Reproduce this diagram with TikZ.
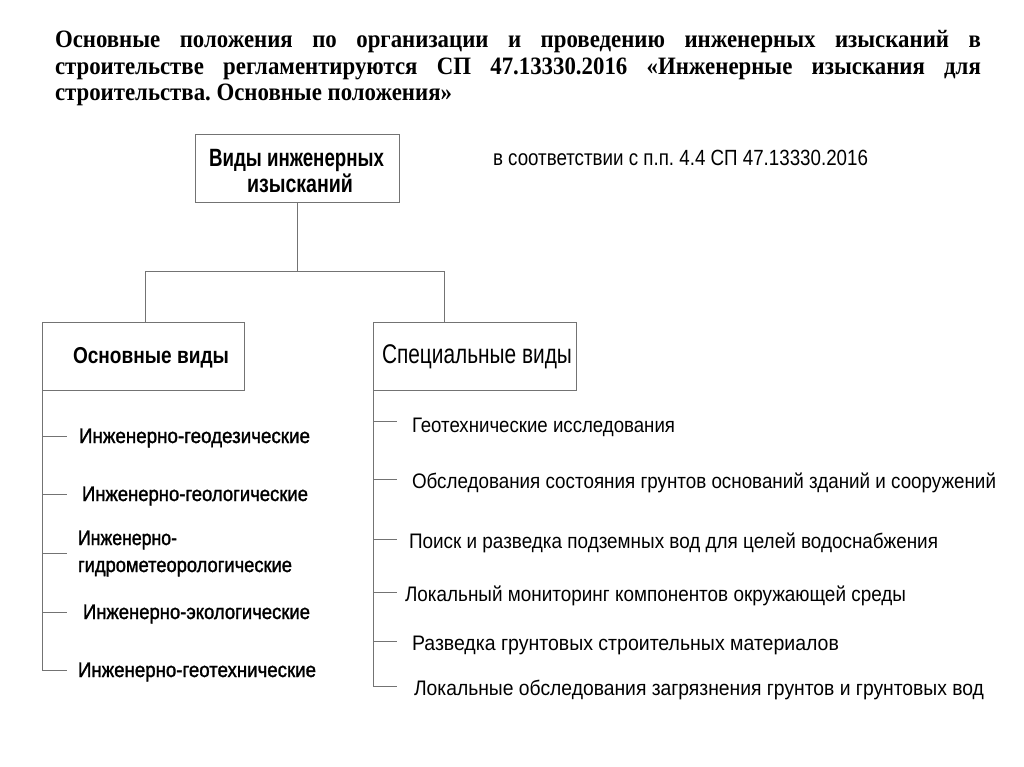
\documentclass[tikz,border=0pt]{standalone}
\usepackage{fontspec}
\usepackage{graphicx}
\setmainfont{Liberation Serif}
\newfontfamily\sansf{Liberation Sans}
\newfontfamily\sansmed[FakeBold=1.5]{Liberation Sans}
\newcommand{\fw}[2]{\resizebox{#1}{\height}{#2}}
\newcommand{\titlef}{\fontsize{25}{28}\selectfont\bfseries\frenchspacing}
\newlength\tlw
\begin{document}
\frenchspacing
\settowidth\tlw{\titlef строительства. Основные положения»}%
\pgfmathsetmacro\tk{397/\tlw}%
\pgfmathsetmacro\tw{926/\tk}%
\begin{tikzpicture}[x=1pt,y=-1pt,
  ln/.style={draw=black!55, line width=1pt},
  boxn/.style={draw=black!55, line width=1pt, inner sep=0pt, outer sep=0pt, minimum height=68pt},
  txt/.style={inner sep=0pt, outer sep=0pt, anchor=base west},
  itemL/.style={txt, font=\sansmed\fontsize{21}{25}\selectfont},
  itemR/.style={txt, font=\sansf\fontsize{21}{25}\selectfont}]
\useasboundingbox (0,0) rectangle (1024,767);
\fill[white] (0,0) rectangle (1024,767);
% title
\node[txt] (ti1) at (55,48) {\scalebox{\tk}[1]{\makebox[\tw pt][s]{\titlef Основные положения по организации и проведению инженерных изысканий в}}};
\node[txt] (ti2) at (55,75) {\scalebox{\tk}[1]{\makebox[\tw pt][s]{\titlef строительстве регламентируются СП 47.13330.2016 «Инженерные изыскания для}}};
\node[txt] (ti3) at (55,101) {\scalebox{\tk}[1]{\titlef строительства. Основные положения»}};
% boxes
\node[boxn, minimum width=204pt] (top) at (297,169) {};
\node[boxn, minimum width=202pt] (osn) at (143,356) {};
\node[boxn, minimum width=203pt] (spec) at (474.5,356) {};
% box texts
\node[txt, font=\sansf\bfseries\fontsize{25}{28}\selectfont] (tb1) at (209,167) {\fw{175pt}{Виды инженерных}};
\node[txt, font=\sansf\bfseries\fontsize{25}{28}\selectfont] (tb2) at (247,193) {\fw{106pt}{изысканий}};
\node[txt, font=\sansf\fontsize{22}{26}\selectfont] (note) at (493,166) {\fw{375pt}{в соответствии с п.п. 4.4 СП 47.13330.2016}};
\node[txt, font=\sansf\bfseries\fontsize{23}{26}\selectfont] (osnT) at (73,363) {\fw{156pt}{Основные виды}};
\node[txt, font=\sansf\fontsize{27}{30}\selectfont] (specT) at (382,363) {\fw{190pt}{Специальные виды}};
% tree connectors
\coordinate (hl) at (145,271);
\coordinate (hr) at (444,271);
\draw[ln] (top.south) -- (top.south |- hl);
\draw[ln] (hl |- osn.north) -- (hl) -- (hr) -- (hr |- spec.north);
% left items
\node[itemL] (l1) at (79,443) {\fw{231pt}{Инженерно-геодезические}};
\node[itemL] (l2) at (82,501) {\fw{226pt}{Инженерно-геологические}};
\node[itemL] (l3a) at (78,545) {\fw{99pt}{Инженерно-}};
\node[itemL] (l3b) at (78,572) {\fw{214pt}{гидрометеорологические}};
\node[itemL] (l4) at (83,619) {\fw{227pt}{Инженерно-экологические}};
\node[itemL] (l5) at (78,677) {\fw{238pt}{Инженерно-геотехнические}};
\coordinate (lt1) at (67,436);
\coordinate (lt2) at (67,494);
\coordinate (lt3) at (67,553);
\coordinate (lt4) at (67,612);
\coordinate (lt5) at (67,670);
\draw[ln] (osn.south west) -- (osn.south west |- lt5) -- (lt5);
\foreach \i in {1,...,4} \draw[ln] (osn.south west |- lt\i) -- (lt\i);
% right items
\node[itemR] (r1) at (412,432) {\fw{263pt}{Геотехнические исследования}};
\node[itemR] (r2) at (412,488) {\fw{584pt}{Обследования состояния грунтов оснований зданий и сооружений}};
\node[itemR] (r3) at (409,548) {\fw{529pt}{Поиск и разведка подземных вод для целей водоснабжения}};
\node[itemR] (r4) at (405,601) {\fw{501pt}{Локальный мониторинг компонентов окружающей среды}};
\node[itemR] (r5) at (412,650) {\fw{427pt}{Разведка грунтовых строительных материалов}};
\node[itemR] (r6) at (414,695) {\fw{570pt}{Локальные обследования загрязнения грунтов и грунтовых вод}};
\coordinate (rt1) at (397,421);
\coordinate (rt2) at (397,479);
\coordinate (rt3) at (397,539);
\coordinate (rt4) at (397,592);
\coordinate (rt5) at (397,641);
\coordinate (rt6) at (397,686);
\draw[ln] (spec.south west) -- (spec.south west |- rt6) -- (rt6);
\foreach \i in {1,...,5} \draw[ln] (spec.south west |- rt\i) -- (rt\i);
\end{tikzpicture}
\end{document}
